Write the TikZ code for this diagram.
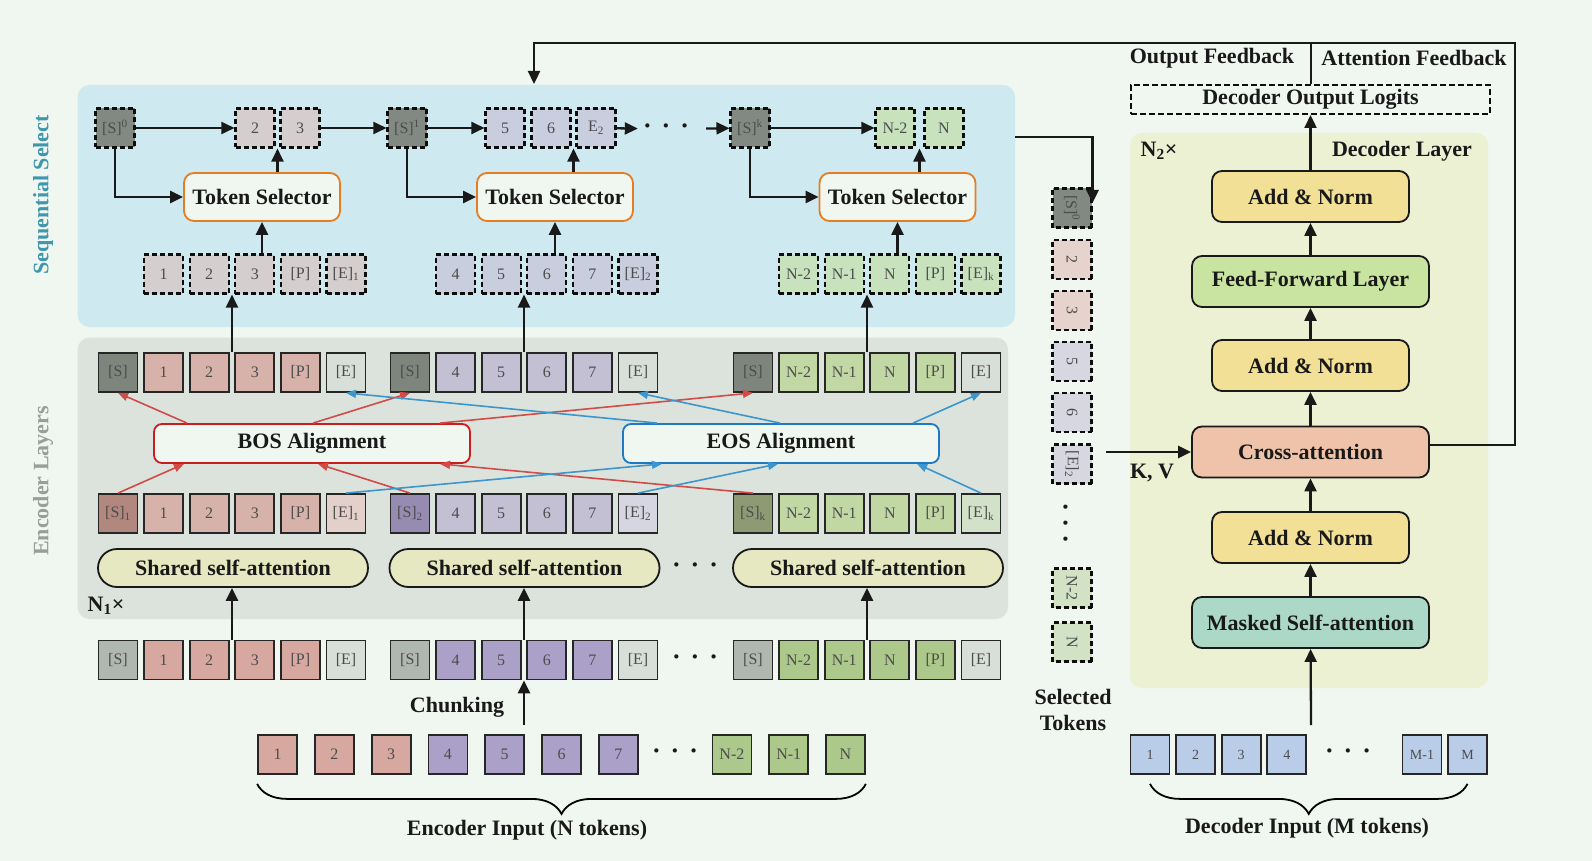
\documentclass[tikz,border=0pt]{standalone}
\usepackage{fontspec}
\setmainfont{Liberation Serif}
\usetikzlibrary{arrows.meta,calc,decorations.pathreplacing}

\definecolor{hgrund}{RGB}{240,246,240}
\definecolor{seqblau}{RGB}{206,234,240}
\definecolor{encgrau}{RGB}{220,227,220}
\definecolor{decgelb}{RGB}{236,241,211}
\definecolor{seqtext}{RGB}{64,150,172}
\definecolor{enctext}{RGB}{150,159,153}
\definecolor{sdunkel}{RGB}{125,133,125}
\definecolor{sgrau}{RGB}{176,182,176}
\definecolor{ehell}{RGB}{216,223,216}
\definecolor{rotT}{RGB}{214,178,170}
\definecolor{rotE}{RGB}{214,168,160}
\definecolor{lilaT}{RGB}{196,192,212}
\definecolor{lilaE}{RGB}{170,160,200}
\definecolor{gruenT}{RGB}{194,216,164}
\definecolor{gruenE}{RGB}{172,200,138}
\definecolor{sbraun}{RGB}{178,136,126}
\definecolor{rosahell}{RGB}{228,208,202}
\definecolor{slila}{RGB}{150,140,178}
\definecolor{lilahell}{RGB}{214,214,226}
\definecolor{soliv}{RGB}{140,155,115}
\definecolor{gruenhell}{RGB}{210,226,200}
\definecolor{sD}{RGB}{130,137,130}
\definecolor{rotD}{RGB}{212,206,206}
\definecolor{lilaD}{RGB}{200,206,222}
\definecolor{gruenD}{RGB}{200,226,190}
\definecolor{selRot}{RGB}{230,211,205}
\definecolor{selLila}{RGB}{215,215,226}
\definecolor{selGruen}{RGB}{210,226,196}
\definecolor{dinBlau}{RGB}{185,205,232}
\definecolor{tsorange}{RGB}{230,125,35}
\definecolor{bosrot}{RGB}{200,30,30}
\definecolor{bospfeilrot}{RGB}{210,75,70}
\definecolor{eosblau}{RGB}{30,120,195}
\definecolor{eospfeilblau}{RGB}{60,150,205}
\definecolor{saGelb}{RGB}{229,232,192}
\definecolor{anGelb}{RGB}{241,224,150}
\definecolor{ffGruen}{RGB}{200,228,160}
\definecolor{caRot}{RGB}{238,195,170}
\definecolor{msaGruen}{RGB}{172,216,200}

\begin{document}
\begin{tikzpicture}[x=1pt,y=-1pt,
		tok/.style={draw=black!85,line width=1.8pt,minimum width=39pt,minimum height=39pt,inner sep=0pt,text=black!70,font=\fontsize{16}{18}\selectfont},
		dtok/.style={tok,draw=black!95,line width=2.1pt,dash pattern=on 5pt off 3pt},
		titel/.style={font=\fontsize{22}{26}\selectfont\bfseries,text=black!90},
		block/.style={titel,draw=black!90,line width=1.8pt,rounded corners=10pt,minimum height=51pt,inner sep=0pt},
		sabox/.style={block,fill=saGelb,rounded corners=19pt,minimum width=270pt,minimum height=38pt},
		tsbox/.style={block,draw=tsorange,fill=hgrund,minimum width=156pt,minimum height=48pt},
		alignbox/.style={block,fill=hgrund,minimum width=316pt,minimum height=39pt,rounded corners=8pt},
		punkte/.style={font=\fontsize{26}{26}\selectfont\bfseries,inner sep=0pt,text=black!90},
		pfeil/.style={draw=black!90,line width=2.3pt,-{Triangle[length=13pt,width=12pt]}},
		bospfeil/.style={draw=bospfeilrot,line width=1.6pt,-{Triangle[length=10pt,width=8pt]}},
		eospfeil/.style={draw=eospfeilblau,line width=1.6pt,-{Triangle[length=10pt,width=8pt]}}]
		% Hintergrund
		\fill[hgrund] (0,0) rectangle (1592,861);
		\useasboundingbox (0,0) rectangle (1592,861);
		\fill[seqblau,rounded corners=12pt] (77.6,85) rectangle (1015,327);
		\fill[encgrau,rounded corners=12pt] (77.6,337.6) rectangle (1008,619);
		\fill[decgelb,rounded corners=12pt] (1130,133) rectangle (1488,688);
		
		% Seitenbeschriftung
		\node[titel,rotate=90,text=seqtext] (seqlab) at (43,195) {Sequential Select};
		\node[titel,rotate=90,text=enctext] (enclab) at (43,481) {Encoder Layers};
		
		% Encoder-Eingabe
		\foreach \lab/\fc [count=\i from 0] in {1/rotE,2/rotE,3/rotE,4/lilaE,5/lilaE,6/lilaE,7/lilaE}
			\node[tok,fill=\fc] (ein\i) at (277.5+56.8*\i,754.5) {\lab};
		\foreach \lab [count=\i from 8] in {N-2,N-1,N}
			\node[tok,fill=gruenE] (ein\i) at (277.5+56.8*\i,754.5) {\lab};
		\node[punkte] (einpkt) at (675,754.5) {·\hspace{10pt}·\hspace{10pt}·};
		\draw[line width=1.8pt,decorate,decoration={brace,mirror,amplitude=30pt}] ([yshift=-9pt]ein0.south west) -- ([yshift=-9pt]ein10.south east);
		\node[titel] (einlab) at (527,830) {Encoder Input (N tokens)};
		
		% Chunks
		\foreach \lab/\fc [count=\i from 0] in {{[S]}/sgrau,1/rotE,2/rotE,3/rotE,{[P]}/rotE,{[E]}/ehell}
			\node[tok,fill=\fc] (e1-\i) at (118+45.6*\i,660) {\lab};
		\foreach \lab/\fc [count=\i from 0] in {{[S]}/sgrau,4/lilaE,5/lilaE,6/lilaE,7/lilaE,{[E]}/ehell}
			\node[tok,fill=\fc] (e2-\i) at (410+45.6*\i,660) {\lab};
		\foreach \lab/\fc [count=\i from 0] in {{[S]}/sgrau,N-2/gruenE,N-1/gruenE,N/gruenE,{[P]}/gruenE,{[E]}/ehell}
			\node[tok,fill=\fc] (e3-\i) at (753+45.6*\i,660) {\lab};
		\node[punkte] (epkt) at (695,660) {·\hspace{10pt}·\hspace{10pt}·};
		\coordinate (k1) at ($(e1-2)!.5!(e1-3)$);
		\coordinate (k2) at ($(e2-2)!.5!(e2-3)$);
		\coordinate (k3) at ($(e3-2)!.5!(e3-3)$);
		\draw[pfeil] (ein4.north -| k2) ++(0,-9) -- (e2-0.south -| k2);
		\node[titel] (chunklab) at (457,707) {Chunking};
		
		% Encoder-Schichten
		\node[sabox] (sa1) at (233,568) {Shared self-attention};
		\node[sabox] (sa2) at (524.5,568) {Shared self-attention};
		\node[sabox] (sa3) at (868,568) {Shared self-attention};
		\node[punkte] (sapkt) at (695,568) {·\hspace{10pt}·\hspace{10pt}·};
		\node[titel] (n1) at (106,606) {N\textsubscript{1}×};
		\draw[pfeil] (e1-0.north -| k1) -- (sa1.south -| k1);
		\draw[pfeil] (e2-0.north -| k2) -- (sa2.south -| k2);
		\draw[pfeil] (e3-0.north -| k3) -- (sa3.south -| k3);
		
		\foreach \lab/\fc [count=\i from 0] in {{[S]\textsubscript{1}}/sbraun,1/rotT,2/rotT,3/rotT,{[P]}/rotT,{[E]\textsubscript{1}}/rosahell}
			\node[tok,fill=\fc] (u1-\i) at (118+45.6*\i,513.5) {\lab};
		\foreach \lab/\fc [count=\i from 0] in {{[S]\textsubscript{2}}/slila,4/lilaT,5/lilaT,6/lilaT,7/lilaT,{[E]\textsubscript{2}}/lilahell}
			\node[tok,fill=\fc] (u2-\i) at (410+45.6*\i,513.5) {\lab};
		\foreach \lab/\fc [count=\i from 0] in {{[S]\textsubscript{k}}/soliv,N-2/gruenT,N-1/gruenT,N/gruenT,{[P]}/gruenT,{[E]\textsubscript{k}}/gruenhell}
			\node[tok,fill=\fc] (u3-\i) at (753+45.6*\i,513.5) {\lab};
		
		\node[alignbox,draw=bosrot] (bos) at (312,443.5) {BOS Alignment};
		\node[alignbox,draw=eosblau] (eos) at (781,443.5) {EOS Alignment};
		
		\foreach \lab/\fc [count=\i from 0] in {{[S]}/sdunkel,1/rotT,2/rotT,3/rotT,{[P]}/rotT,{[E]}/ehell}
			\node[tok,fill=\fc] (o1-\i) at (118+45.6*\i,372.5) {\lab};
		\foreach \lab/\fc [count=\i from 0] in {{[S]}/sdunkel,4/lilaT,5/lilaT,6/lilaT,7/lilaT,{[E]}/ehell}
			\node[tok,fill=\fc] (o2-\i) at (410+45.6*\i,372.5) {\lab};
		\foreach \lab/\fc [count=\i from 0] in {{[S]}/sdunkel,N-2/gruenT,N-1/gruenT,N/gruenT,{[P]}/gruenT,{[E]}/ehell}
			\node[tok,fill=\fc] (o3-\i) at (753+45.6*\i,372.5) {\lab};
		
		% BOS / EOS Pfeile
		\draw[bospfeil] (u1-0.north) -- ([xshift=-128pt]bos.south);
		\draw[bospfeil] (u2-0.north) -- ([xshift=6pt]bos.south);
		\draw[bospfeil] (u3-0.north) -- ([xshift=128pt]bos.south);
		\draw[bospfeil] ([xshift=-125pt]bos.north) -- (o1-0.south);
		\draw[bospfeil] ([xshift=1pt]bos.north) -- (o2-0.south);
		\draw[bospfeil] ([xshift=128pt]bos.north) -- (o3-0.south);
		\draw[eospfeil] (u1-5.north) -- ([xshift=-119pt]eos.south);
		\draw[eospfeil] (u2-5.north) -- ([xshift=-3pt]eos.south);
		\draw[eospfeil] (u3-5.north) -- ([xshift=136pt]eos.south);
		\draw[eospfeil] ([xshift=-124pt]eos.north) -- (o1-5.south);
		\draw[eospfeil] ([xshift=-1pt]eos.north) -- (o2-5.south);
		\draw[eospfeil] ([xshift=132pt]eos.north) -- (o3-5.south);
		
		% Sequential Select
		\foreach \lab [count=\i from 1] in {1,2,3,{[P]},{[E]\textsubscript{1}}}
			\node[dtok,fill=rotD] (d1-\i) at (118+45.6*\i,274) {\lab};
		\foreach \lab [count=\i from 1] in {4,5,6,7,{[E]\textsubscript{2}}}
			\node[dtok,fill=lilaD] (d2-\i) at (410+45.6*\i,274) {\lab};
		\foreach \lab [count=\i from 1] in {N-2,N-1,N,{[P]},{[E]\textsubscript{k}}}
			\node[dtok,fill=gruenD] (d3-\i) at (753+45.6*\i,274) {\lab};
		\draw[pfeil] (o1-0.north -| k1) -- (d1-1.south -| k1);
		\draw[pfeil] (o2-0.north -| k2) -- (d2-1.south -| k2);
		\draw[pfeil] (o3-0.north -| k3) -- (d3-1.south -| k3);
		
		\node[tsbox] (ts1) at (262,197) {Token Selector};
		\node[tsbox] (ts2) at (555,197) {Token Selector};
		\node[tsbox] (ts3) at (897.5,197) {Token Selector};
		\draw[pfeil] (ts1.south |- d1-3.north) -- (ts1.south);
		\draw[pfeil] (ts2.south |- d2-3.north) -- (ts2.south);
		\draw[pfeil] (ts3.south |- d3-3.north) -- (ts3.south);
		
		\node[dtok,fill=sD] (s0) at (115,128) {[S]\textsuperscript{0}};
		\node[dtok,fill=rotD] (t2) at (255,128) {2};
		\node[dtok,fill=rotD] (t3) at (300,128) {3};
		\node[dtok,fill=sD] (s1) at (407,128) {[S]\textsuperscript{1}};
		\node[dtok,fill=lilaD] (t5) at (505,128) {5};
		\node[dtok,fill=lilaD] (t6) at (551,128) {6};
		\node[dtok,fill=lilaD] (te2) at (596,128) {E\textsubscript{2}};
		\node[punkte] (spkt) at (666,129) {·\hspace{10pt}·\hspace{10pt}·};
		\node[dtok,fill=sD] (sk) at (750,128) {[S]\textsuperscript{k}};
		\node[dtok,fill=gruenD] (tn2) at (895,128) {N-2};
		\node[dtok,fill=gruenD] (tn) at (944,128) {N};
		
		\draw[pfeil] (s0) -- (t2);
		\draw[pfeil] (t3) -- (s1);
		\draw[pfeil] (s1) -- (t5);
		\draw[pfeil,shorten >=5pt] (te2) -- (spkt);
		\draw[pfeil,shorten <=17pt] (spkt) -- (sk);
		\draw[pfeil] (sk) -- (tn2);
		\draw[pfeil] (s0.south) |- (ts1.west);
		\draw[pfeil] (s1.south) |- (ts2.west);
		\draw[pfeil] (sk.south) |- (ts3.west);
		\coordinate (a1) at ($(t2.south)!.5!(t3.south)$);
		\coordinate (a2) at ($(t6.south)!.5!(te2.south)$);
		\coordinate (a3) at ($(tn2.south)!.5!(tn.south)$);
		\draw[pfeil] (ts1.north -| a1) -- (a1);
		\draw[pfeil] (ts2.north -| a2) -- (a2);
		\draw[pfeil] (ts3.north -| a3) -- (a3);
		
		% Ausgewaehlte Tokens
		\foreach \lab/\fc/\yy [count=\i from 0] in {{[S]\textsuperscript{0}}/sD/208,2/selRot/259.2,3/selRot/310.4,5/selLila/361.6,6/selLila/412.8,{[E]\textsubscript{2}}/selLila/464,N-2/selGruen/588,N/selGruen/642}
			\node[dtok,fill=\fc,rotate=-90] (sel\i) at (1072,\yy) {\lab};
		\node[punkte,rotate=90] (selpkt) at (1069,523) {·\hspace{7pt}·\hspace{7pt}·};
		\node[titel,align=center] (sellab) at (1073,710) {Selected\\Tokens};
		\coordinate (seqR) at (1015,137);
		\draw[pfeil,shorten >=5pt] (seqR) -| (sel0.north);
		
		% Decoder
		\node[titel] (n2) at (1159,151) {N\textsubscript{2}×};
		\node[titel] (declab) at (1402,151) {Decoder Layer};
		\node[block,fill=msaGruen,minimum width=237pt] (msa) at (1310.5,622.5) {Masked Self-attention};
		\node[block,fill=anGelb,minimum width=197pt] (an1) at (1310.5,537.5) {Add \& Norm};
		\node[block,fill=caRot,minimum width=237pt] (ca) at (1310.5,452) {Cross-attention};
		\node[block,fill=anGelb,minimum width=197pt] (an2) at (1310.5,365.5) {Add \& Norm};
		\node[block,fill=ffGruen,minimum width=237pt] (ffl) at (1310.5,281.5) {Feed-Forward Layer};
		\node[block,fill=anGelb,minimum width=197pt] (an3) at (1310.5,196.5) {Add \& Norm};
		\node[titel,draw=black!95,line width=2pt,dash pattern=on 6pt off 3pt,minimum width=359pt,minimum height=29pt,inner sep=0pt] (logits) at (1310.5,99.5) {Decoder Output Logits};
		
		\foreach \lab [count=\i from 0] in {1,2,3,4}
			\node[tok,fill=dinBlau,font=\fontsize{14}{16}\selectfont] (din\i) at (1150+45.6*\i,754.5) {\lab};
		\node[tok,fill=dinBlau,font=\fontsize{14}{16}\selectfont] (din5) at (1422,754.5) {M-1};
		\node[tok,fill=dinBlau,font=\fontsize{14}{16}\selectfont] (din6) at (1467.5,754.5) {M};
		\node[punkte] (dinpkt) at (1348,754.5) {·\hspace{10pt}·\hspace{10pt}·};
		\draw[line width=1.8pt,decorate,decoration={brace,mirror,amplitude=30pt}] ([yshift=-9pt]din0.south) -- ([yshift=-9pt]din6.south);
		\node[titel] (dinlab) at (1307,828) {Decoder Input (M tokens)};
		
		\coordinate (dinT) at (1311,725);
		\draw[pfeil] (dinT) -- (msa);
		\draw[pfeil] (msa) -- (an1);
		\draw[pfeil] (an1) -- (ca);
		\draw[pfeil] (ca) -- (an2);
		\draw[pfeil] (an2) -- (ffl);
		\draw[pfeil] (ffl) -- (an3);
		\draw[pfeil] (an3) -- (logits);
		\coordinate (kv) at (1106,452);
		\draw[pfeil] (kv) -- (ca.west);
		\node[titel] (kvlab) at (1152,473) {K, V};
		
		% Rueckkopplung
		\coordinate (fbR) at (1515,43);
		\coordinate (fbL) at (534,43);
		\coordinate (fbM) at (1310.5,43);
		\coordinate (seqT) at (534,84);
		\draw[pfeil] ([yshift=7pt]ca.east) -| (fbR) -- (fbL) -- (seqT);
		\draw[line width=2pt,black!90] (logits.north) -- (fbM);
		\node[titel] (oflab) at (1212,58) {Output Feedback};
		\node[titel] (aflab) at (1414,58) {Attention Feedback};
	\end{tikzpicture}
\end{document}
